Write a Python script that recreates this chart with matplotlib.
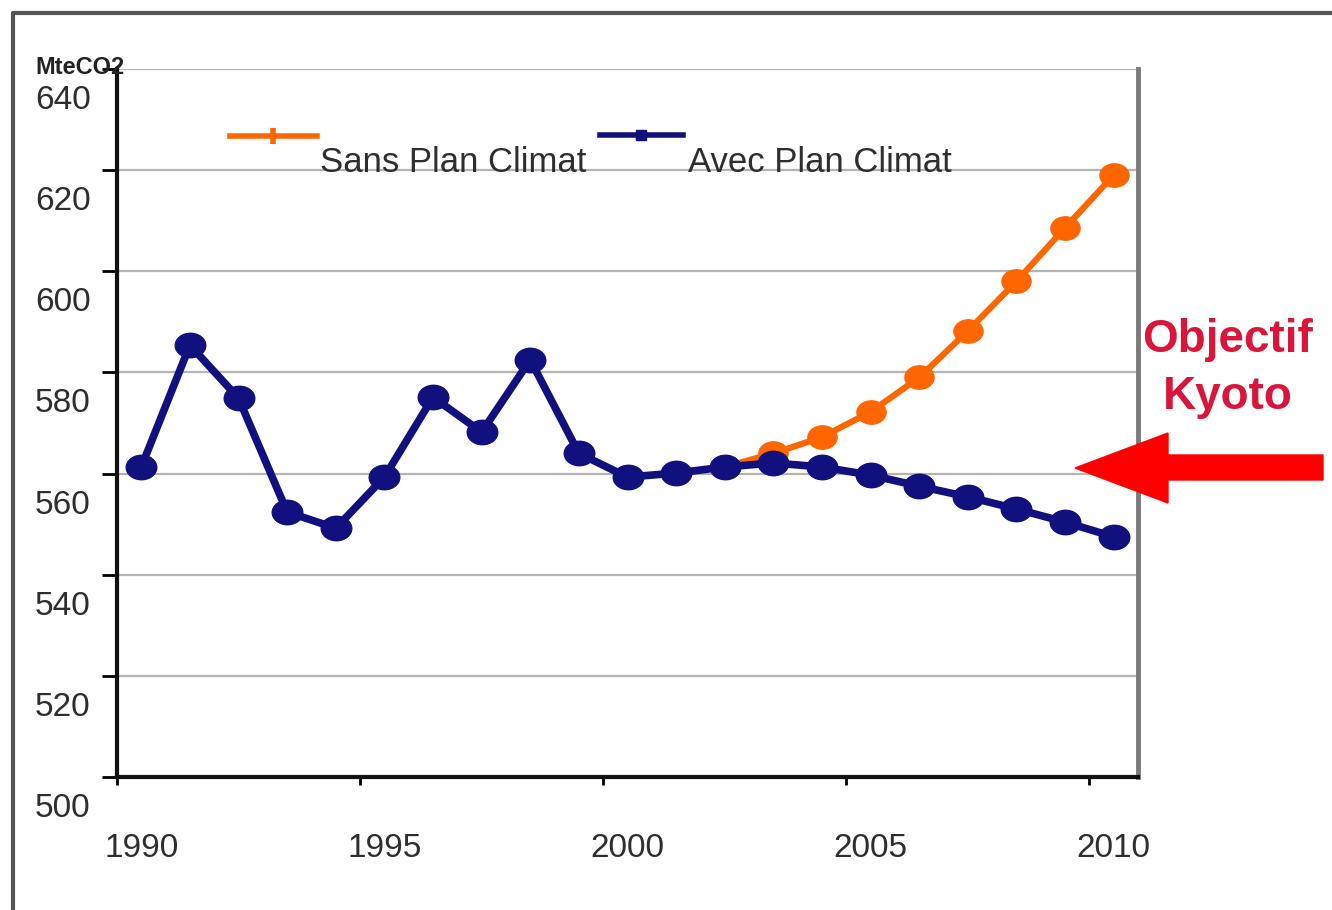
import matplotlib
matplotlib.use("Agg")
import matplotlib.pyplot as plt
from matplotlib.lines import Line2D
from matplotlib.patches import Polygon
from matplotlib.path import Path
from matplotlib.transforms import Affine2D, ScaledTranslation

plt.rcParams['font.family'] = ['Liberation Sans', 'DejaVu Sans']

# valeurs (MteCO2)
years = list(range(1990, 2011))
avec_plan = [561.3, 585.4, 574.9, 552.4, 549.2, 559.3, 575.1, 568.2, 582.5, 564.0,
             559.3, 560.1, 561.3, 562.1, 561.3, 559.7, 557.5, 555.4, 553.0, 550.4, 547.5]
sans_years = list(range(2002, 2011))
sans_plan = [561.3, 564.0, 567.2, 572.2, 579.0, 588.2, 598.0, 608.6, 619.0]
y_ticks = [500, 520, 540, 560, 580, 600, 620, 640]
x_labels = [1990, 1995, 2000, 2005, 2010]

W, H = 1332, 910
fig = plt.figure(figsize=(W / 100, H / 100), dpi=100)


def px(x, y):
    return (x / W, 1 - y / H)


ax = fig.add_axes([117 / W, 1 - 777 / H, 1021 / W, 708 / H])

ellipse = Path.unit_circle().transformed(Affine2D().scale(1.25, 1.0))

ax.plot(sans_years, sans_plan, color='#ff6600', lw=4.5, marker=ellipse, ms=21,
        zorder=3, solid_capstyle='round')
ax.plot(years, avec_plan, color='#10107f', lw=5.5, marker=ellipse, ms=22,
        zorder=4, solid_capstyle='round')

ax.set_xlim(1989.5, 2010.5)
ax.set_ylim(500, 640)

ax.set_yticks(y_ticks)
ax.set_yticklabels([str(v) for v in y_ticks])
ax.tick_params(axis='y', direction='out', length=11, width=2, pad=8,
               labelsize=24, labelcolor='#2e2e2e')
shift = ScaledTranslation(0, -28 / 100, fig.dpi_scale_trans)
for lab in ax.get_yticklabels():
    lab.set_transform(lab.get_transform() + shift)

ax.set_xticks([y - 0.5 for y in x_labels])
ax.set_xticklabels([])
ax.set_xticks(x_labels, minor=True)
ax.set_xticklabels([str(v) for v in x_labels], minor=True)
ax.tick_params(axis='x', which='major', direction='out', length=6, width=2)
ax.tick_params(axis='x', which='minor', length=0, pad=40,
               labelsize=24, labelcolor='#2e2e2e')

ax.grid(axis='y', color='#b4b4b4', lw=1.6)
ax.set_axisbelow(True)
ax.spines['top'].set_visible(False)
ax.spines['left'].set_linewidth(3)
ax.spines['left'].set_color('#111111')
ax.spines['bottom'].set_linewidth(3)
ax.spines['bottom'].set_color('#111111')
ax.spines['right'].set_linewidth(3.5)
ax.spines['right'].set_color('#7a7a7a')

# légende disposée comme sur l'original
fig.add_artist(Line2D([230 / W, 273 / W, 317 / W], [1 - 136 / H] * 3, color='#ff6600', lw=4,
                      marker='|', markevery=[1], ms=12, mew=4,
                      transform=fig.transFigure))
fig.add_artist(Line2D([600 / W, 641 / W, 683 / W], [1 - 135 / H] * 3, color='#10107f', lw=4,
                      marker='s', markevery=[1], ms=7,
                      transform=fig.transFigure))
fig.text(*px(320, 163), 'Sans Plan Climat', fontsize=25, color='#2e2e2e',
         ha='left', va='center')
fig.text(*px(688, 163), 'Avec Plan Climat', fontsize=25, color='#2e2e2e',
         ha='left', va='center')

fig.text(*px(80, 68), 'MteCO2', fontsize=17, fontweight='bold', color='#222222',
         ha='center', va='center')

fig.text(*px(1228, 340), 'Objectif', fontsize=33, fontweight='bold', color='#d9163a',
         ha='center', va='center')
fig.text(*px(1228, 397), 'Kyoto', fontsize=33, fontweight='bold', color='#d9163a',
         ha='center', va='center')

arrow_pts = [px(1075, 468), px(1168, 433), px(1168, 455), px(1323, 455),
             px(1323, 480), px(1168, 480), px(1168, 503)]
fig.add_artist(Polygon(arrow_pts, closed=True, facecolor='#ff0000', edgecolor='#ff0000',
                       transform=fig.transFigure))

# cadre extérieur
fig.add_artist(Line2D([13 / W, 13 / W, 1.0], [0.0, 1 - 13 / H, 1 - 13 / H], color='#555555',
                      lw=3, transform=fig.transFigure))

fig.savefig('out.png', dpi=100)
